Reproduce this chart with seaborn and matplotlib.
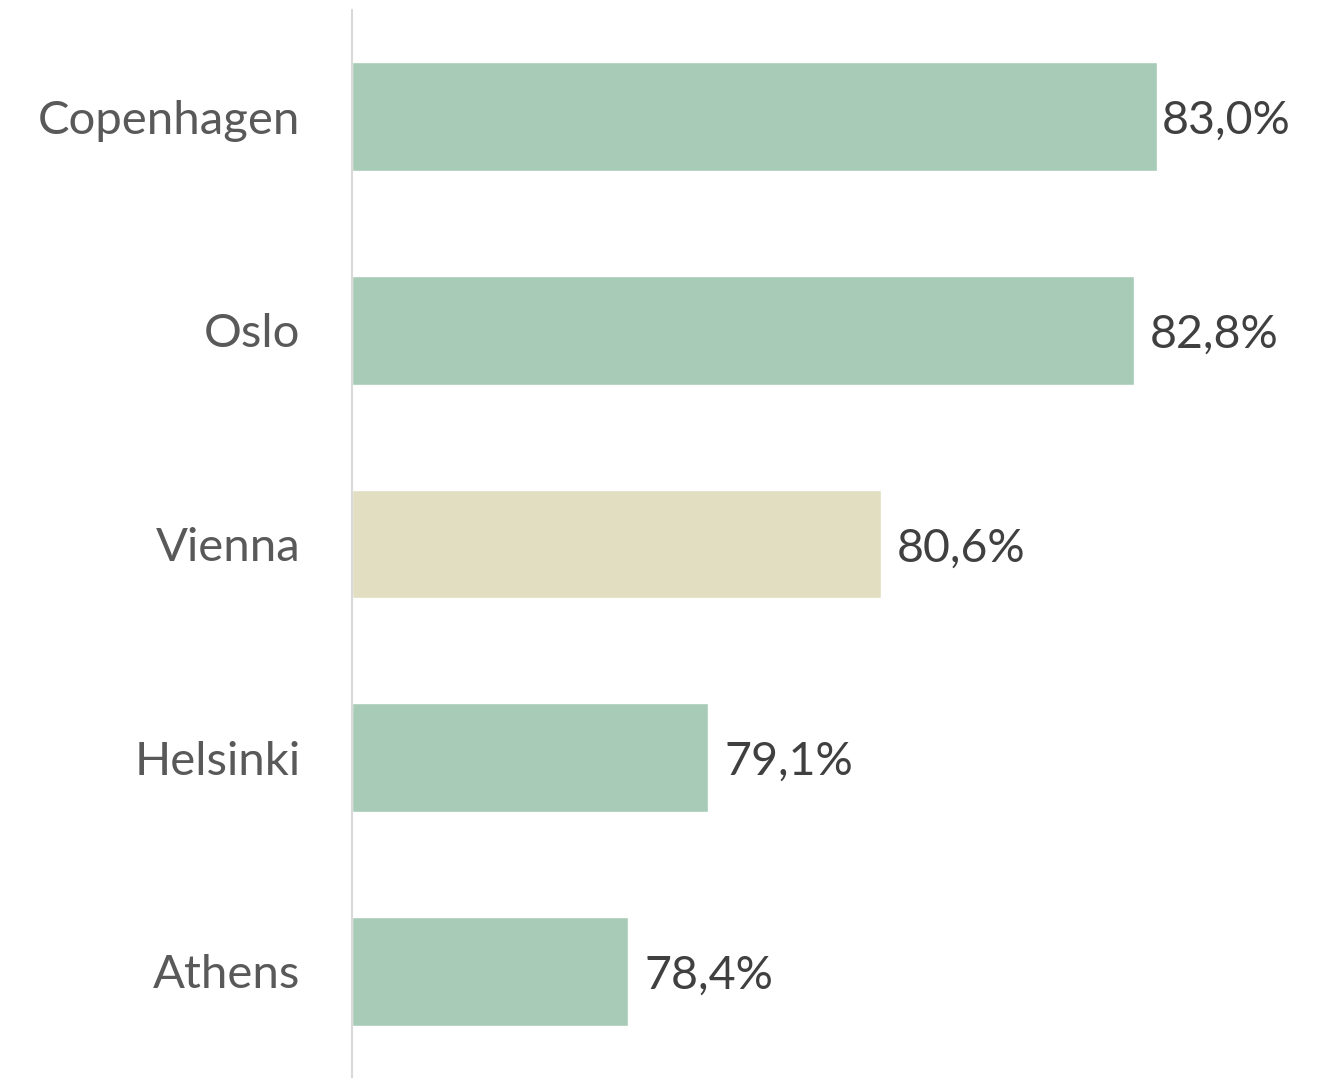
import matplotlib
matplotlib.use("Agg")
import matplotlib.pyplot as plt
import seaborn as sns
import pandas as pd

cities = ["Copenhagen", "Oslo", "Vienna", "Helsinki", "Athens"]
values = [83.0, 82.8, 80.6, 79.1, 78.4]
value_labels = ["83,0%", "82,8%", "80,6%", "79,1%", "78,4%"]
bar_colors = ["#A7CBB6", "#A7CBB6", "#E2DEC1", "#A7CBB6", "#A7CBB6"]

sns.set_theme(style="white")
plt.rcParams['font.family'] = ['Lato', 'DejaVu Sans']

W, H = 1339, 1078
fig = plt.figure(figsize=(W / 100, H / 100), dpi=100)
ax = fig.add_axes([352 / W, 0 / H, (W - 352) / W, (1078 - 10) / H])

df = pd.DataFrame({"city": cities, "value": values})
base = 76.0
px = 115.0  # pixels per unit
df["len"] = df["value"] - base
sns.barplot(data=df, y="city", x="len", hue="city", palette=bar_colors,
            width=0.51, legend=False, ax=ax, orient="h", saturation=1)

ax.set_xlim(0, (W - 352) / px)
ax.set_ylim(4.5, -0.5)

fig.canvas.draw()
renderer = fig.canvas.get_renderer()
limit = (1290 - 352) / px
for i, (v, lab) in enumerate(zip(df["len"], value_labels)):
    t = ax.text(v + 16 / px, i + 0.02, lab, va="center", ha="left",
                fontsize=33.5, color="#404040")
    w = t.get_window_extent(renderer).width / px
    if v + 16 / px + w > limit:
        t.set_x(limit - w)

ax.set_xlabel("")
ax.set_ylabel("")
ax.set_xticks([])
ax.tick_params(axis="y", length=0, pad=37, labelsize=34, labelcolor="#595959")
for s in ["top", "right", "bottom"]:
    ax.spines[s].set_visible(False)
ax.spines["left"].set_color("#D9D9D9")
ax.spines["left"].set_linewidth(1.5)

fig.savefig("out.png", dpi=100)
